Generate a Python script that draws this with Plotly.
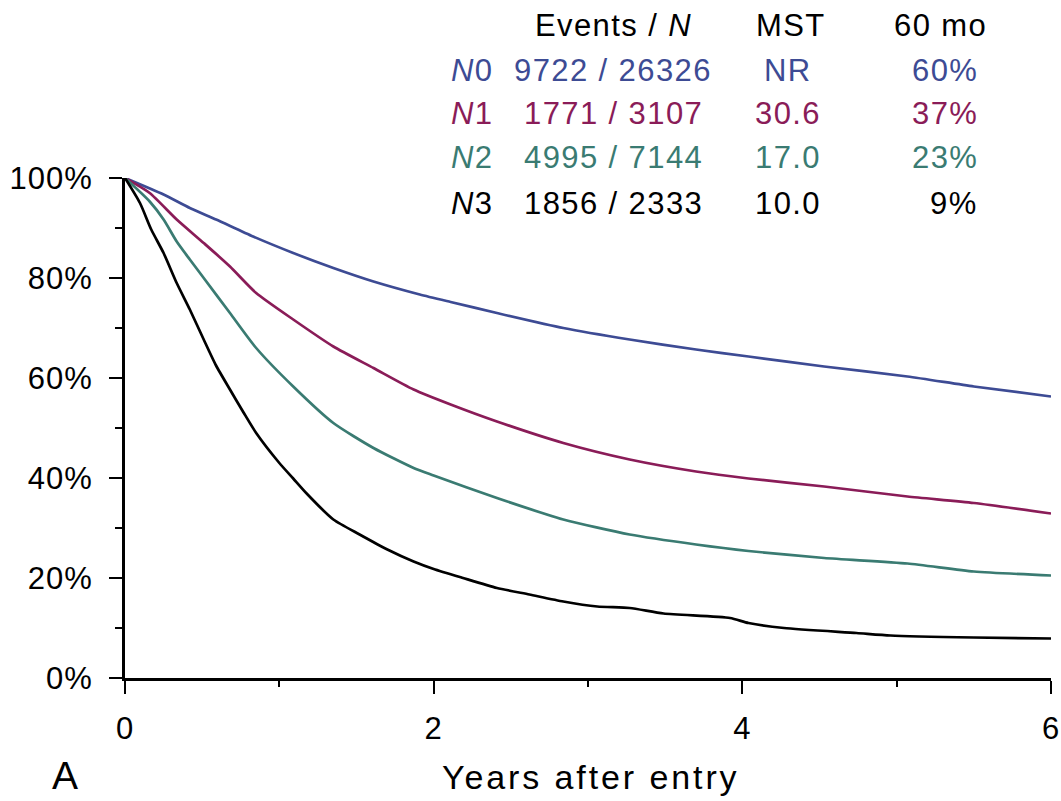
import plotly.graph_objects as go

# ---------------- data ----------------
t_n0 = [0, 0.25, 0.42, 0.59, 0.83, 1.09, 1.35, 1.61, 1.91, 2.11, 2.41, 2.84, 3.27, 3.70, 4.04, 4.53, 5.07, 5.50, 6.0]
s_n0 = [100, 96.7, 94.0, 91.7, 88.3, 85.0, 82.0, 79.3, 76.7, 75.2, 73.0, 70.0, 67.7, 65.7, 64.3, 62.3, 60.3, 58.3, 56.3]

t_n1 = [0, 0.16, 0.335, 0.51, 0.68, 0.85, 1.09, 1.35, 1.61, 1.87, 2.11, 2.41, 2.84, 3.27, 3.70, 4.04, 4.53, 5.07, 5.50, 6.0]
s_n1 = [100, 97.0, 91.7, 87.0, 82.3, 77.0, 71.7, 66.3, 62.0, 57.7, 54.7, 51.3, 47.0, 43.7, 41.3, 39.9, 38.3, 36.3, 35.0, 32.9]

t_n2 = [0, 0.16, 0.25, 0.335, 0.42, 0.51, 0.68, 0.85, 1.09, 1.35, 1.61, 1.87, 2.0, 2.41, 2.84, 3.27, 3.70, 4.04, 4.53, 5.07, 5.50, 6.0]
s_n2 = [100, 95.3, 91.7, 87.3, 83.7, 80.0, 73.0, 66.0, 58.3, 51.0, 46.0, 42.0, 40.5, 36.0, 31.7, 28.7, 26.7, 25.4, 24.0, 22.9, 21.3, 20.5]

t_n3 = [0, 0.097, 0.17, 0.25, 0.335, 0.42, 0.51, 0.59, 0.68, 0.77, 0.85, 1.0, 1.09, 1.18, 1.35, 1.52, 1.70, 1.87, 2.0,
        2.19, 2.41, 2.62, 2.84, 3.06, 3.27, 3.49, 3.92, 4.04, 4.27, 4.74, 4.96, 5.50, 6.0]
s_n3 = [100, 95.0, 89.7, 85.0, 79.0, 73.7, 67.7, 62.5, 57.7, 53.0, 49.0, 43.0, 39.9, 36.8, 31.7, 28.7, 25.7, 23.3, 21.8,
        20.0, 18.0, 16.7, 15.3, 14.3, 14.0, 12.9, 12.0, 11.0, 10.0, 9.0, 8.5, 8.1, 7.9]

group_labels = ["0", "1", "2", "3"]
events_n = ["9722 / 26326", "1771 / 3107", "4995 / 7144", "1856 / 2333"]
mst = ["NR", "30.6", "17.0", "10.0"]
surv_60mo = ["60%", "37%", "23%", "9%"]

y_tickvals = [0, 20, 40, 60, 80, 100]
y_ticktext = ["0%", "20%", "40%", "60%", "80%", "100%"]
x_tickvals = [0, 2, 4, 6]
x_ticktext = ["0", "2", "4", "6"]

colors = ["#3D4B94", "#8A1C58", "#3A7B72", "#000000"]

# ---------------- figure ----------------
W, H = 1061, 801
ML, MR, MT, MB = 125, 10, 178, 123
PW, PH = W - ML - MR, H - MT - MB

def px_x(px):
    return (px - ML) / PW

def px_y(py):
    return (H - MB - py) / PH

FONT = "Liberation Sans, Arial, sans-serif"

def sp(text, ls):
    return f'<span style="letter-spacing:{ls}px">{text}</span>'

fig = go.Figure()
for t, s, c in zip([t_n0, t_n1, t_n2, t_n3], [s_n0, s_n1, s_n2, s_n3], colors):
    fig.add_trace(go.Scatter(x=t, y=s, mode="lines", line=dict(color=c, width=2.7, shape="spline", smoothing=0.6),
                             showlegend=False, hoverinfo="skip"))

axis_common = dict(showgrid=False, zeroline=False, showline=True, linecolor="black", linewidth=3,
                   ticks="outside", tickcolor="black", tickwidth=2, automargin=False,
                   tickfont=dict(family=FONT, size=31, color="black"))

fig.update_xaxes(range=[0, 6], tickvals=x_tickvals, ticktext=[sp(v, 1) for v in x_ticktext], ticklen=13,
                 minor=dict(tickvals=[1, 3, 5], ticklen=6, tickwidth=2, tickcolor="black", ticks="outside"),
                 ticklabelstandoff=8, **axis_common)
fig.update_yaxes(range=[0, 100], tickvals=y_tickvals,
                 ticktext=[sp(v, 1) for v in y_ticktext], ticklen=13,
                 minor=dict(tickvals=[10, 30, 50, 70, 90], ticklen=7, tickwidth=2, tickcolor="black", ticks="outside"),
                 ticklabelstandoff=10, **axis_common)

ann = []
TFS = 31
LS = 1.4
# header
ann.append(dict(x=px_x(613), y=px_y(26), text=sp("Events / <i>N</i>", LS), xanchor="center"))
ann.append(dict(x=px_x(791), y=px_y(26), text=sp("MST", LS), xanchor="center"))
ann.append(dict(x=px_x(940), y=px_y(26), text=sp("60 mo", LS), xanchor="center"))
row_y = [70, 113, 158, 203]
for g, e, m, p, c, ry in zip(group_labels, events_n, mst, surv_60mo, colors, row_y):
    ann.append(dict(x=px_x(449), y=px_y(ry), text=sp(f"<i>N</i>{g}", LS), xanchor="left", font_color=c))
    ann.append(dict(x=px_x(613), y=px_y(ry), text=sp(e, LS), xanchor="center", font_color=c))
    ann.append(dict(x=px_x(788), y=px_y(ry), text=sp(m, LS), xanchor="center", font_color=c))
    ann.append(dict(x=px_x(980), y=px_y(ry), text=sp(p, LS), xanchor="right", font_color=c))

annotations = []
for a in ann:
    col = a.pop("font_color", "black")
    a.update(xref="paper", yref="paper", yanchor="middle", showarrow=False,
             font=dict(family=FONT, size=TFS, color=col))
    annotations.append(a)

annotations.append(dict(x=px_x(591), y=px_y(777), xref="paper", yref="paper", text=sp("Years after entry", 2.9),
                        xanchor="center", yanchor="middle", showarrow=False,
                        font=dict(family=FONT, size=34, color="black")))
annotations.append(dict(x=px_x(65), y=px_y(775), xref="paper", yref="paper", text="A",
                        xanchor="center", yanchor="middle", showarrow=False,
                        font=dict(family=FONT, size=39, color="black")))

fig.update_layout(width=W, height=H, margin=dict(l=ML, r=MR, t=MT, b=MB, pad=0),
                  plot_bgcolor="white", paper_bgcolor="white", annotations=annotations)

fig.write_html("out.html")
